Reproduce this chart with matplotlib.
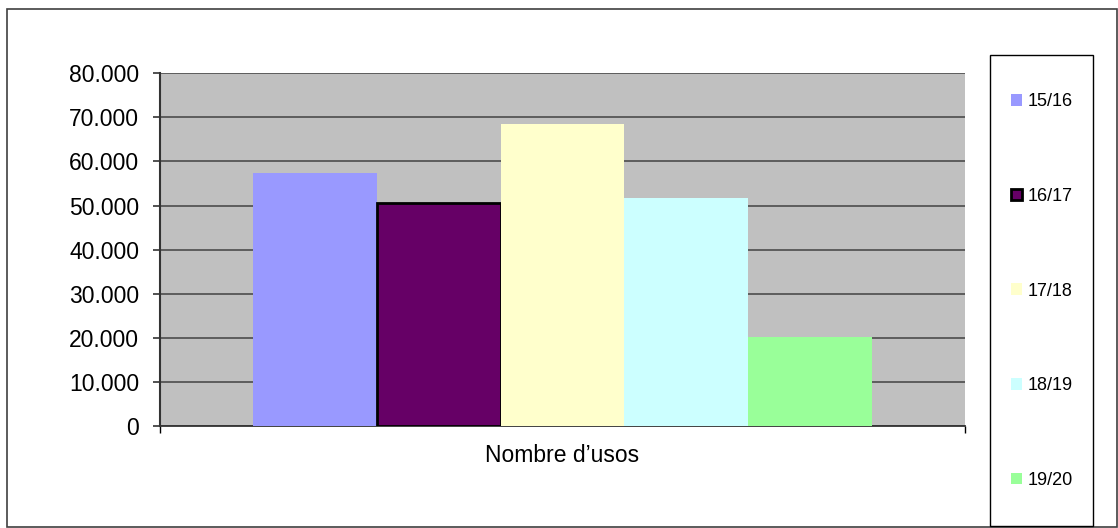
import numpy as np
import matplotlib.pyplot as plt
from matplotlib.patches import Rectangle, Patch
from matplotlib.ticker import FuncFormatter, FixedLocator

plt.rcParams['font.family'] = ['Liberation Sans', 'DejaVu Sans']

# data
seasons = ["15/16", "16/17", "17/18", "18/19", "19/20"]
usos = [57300, 50500, 68500, 51700, 20200]
colors = ["#9999FF", "#660066", "#FFFFCC", "#CCFFFF", "#99FF99"]
category = "Nombre d\u2019usos"
yticks = [0, 10000, 20000, 30000, 40000, 50000, 60000, 70000, 80000]


def thousands(v, pos):
    return "{:,.0f}".format(v).replace(",", ".")


fig = plt.figure(figsize=(11.18, 5.28), dpi=100)
fig.patch.set_facecolor("white")

# outer chart frame
fig.patches.append(Rectangle((7 / 1118, 0.002), 1 - 8 / 1118, 1 - 9 / 528 - 0.002,
                             transform=fig.transFigure, fill=False,
                             edgecolor="#404040", linewidth=1.2))

ax = fig.add_axes([160 / 1118, 102 / 528, 805 / 1118, 352.7 / 528])
ax.set_facecolor("#C0C0C0")

n = len(seasons)
group_w = 0.769
bw = group_w / n
xs = -group_w / 2 + bw / 2 + np.arange(n) * bw
for i in range(n):
    edge = "black" if i == 1 else "none"
    lw = 2 if i == 1 else 0
    ax.bar(xs[i], usos[i], width=bw, color=colors[i], edgecolor=edge,
           linewidth=lw, zorder=3, label=seasons[i])

ax.set_xlim(-0.5, 0.5)
ax.set_ylim(0, 80000)
ax.set_yticks(yticks)
ax.yaxis.set_major_formatter(FuncFormatter(thousands))
ax.grid(axis="y", color="#555555", linewidth=1.3, zorder=1)
ax.set_axisbelow(True)

ax.set_xticks([0])
ax.set_xticklabels([category])
ax.xaxis.set_minor_locator(FixedLocator([-0.5, 0.5]))
ax.tick_params(axis="x", which="major", length=0, pad=13, labelsize=16.5)
ax.tick_params(axis="x", which="minor", length=5, width=1, color="black")
ax.tick_params(axis="y", length=5, width=1.2, color="#333333", pad=10, labelsize=16.5)

for s in ["top", "right"]:
    ax.spines[s].set_visible(False)
ax.spines["left"].set_color("#333333")
ax.spines["left"].set_linewidth(1.5)
ax.spines["bottom"].set_color("#333333")
ax.spines["bottom"].set_linewidth(1.3)

# legend box
fig.patches.append(Rectangle((990 / 1118, 2 / 528), 103 / 1118, 471 / 528,
                             transform=fig.transFigure, fill=False,
                             edgecolor="black", linewidth=1.0))
handles = []
for i in range(n):
    handles.append(Patch(facecolor=colors[i],
                         edgecolor="black" if i == 1 else colors[i],
                         linewidth=2 if i == 1 else 0, label=seasons[i]))
fig.legend(handles=handles, loc="center", bbox_to_anchor=(1042 / 1118, 237 / 528),
           frameon=False, fontsize=13, handlelength=0.6, handleheight=0.6,
           handletextpad=0.3, labelspacing=4.3)

fig.savefig("out.png", dpi=100)
